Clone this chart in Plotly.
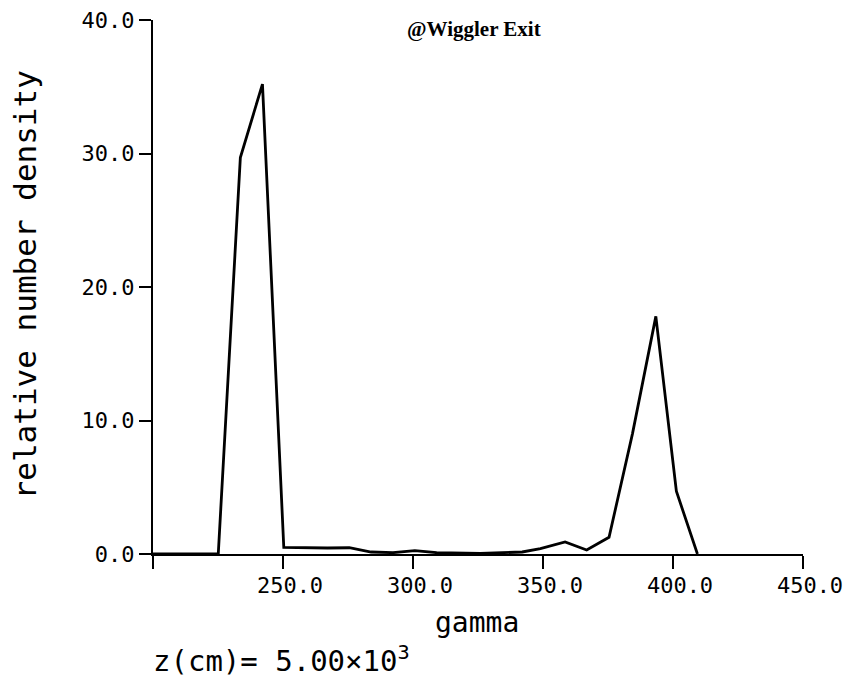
import plotly.graph_objects as go

# Energy distribution of the beam at the wiggler exit
gamma = [200.0, 208.4, 216.7, 225.1, 233.6, 242.1, 250.3, 258.7, 267.1, 275.5,
         283.9, 292.3, 300.7, 309.1, 317.5, 325.9, 334.3, 342.0, 349.0, 358.5,
         366.8, 375.4, 384.4, 393.4, 401.3, 409.4]
density = [0.0, 0.0, 0.0, 0.0, 29.7, 35.2, 0.5, 0.45, 0.45, 0.47,
           0.15, 0.1, 0.25, 0.1, 0.05, 0.05, 0.1, 0.15, 0.4, 0.9,
           0.3, 1.25, 9.0, 17.8, 4.7, 0.0]

x_ticks = [250, 300, 350, 400, 450]
x_tick_text = ["250.0", "300.0", "350.0", "400.0", "450.0"]
x_unlabelled_ticks = [200]
y_ticks = [0, 10, 20, 30, 40]
y_tick_text = ["0.0", "10.0", "20.0", "30.0", "40.0"]

mono = "DejaVu Sans Mono"

fig = go.Figure()
fig.add_trace(go.Scatter(
    x=gamma, y=density, mode="lines",
    line=dict(color="black", width=2.8),
    hoverinfo="skip", showlegend=False,
))

fig.update_layout(
    width=848, height=688,
    margin=dict(l=153, r=45, t=20, b=134),
    paper_bgcolor="white", plot_bgcolor="white",
    xaxis=dict(
        range=[200, 450], tickvals=x_ticks, ticktext=x_tick_text,
        showgrid=False, zeroline=False, automargin=False,
        showline=True, linecolor="black", linewidth=2,
        ticks="outside", ticklen=13, tickwidth=2, tickcolor="black",
        tickfont=dict(family=mono, size=22, color="black"),
        ticklabelshift=7, ticklabelstandoff=-2,
        minor=dict(tickvals=x_unlabelled_ticks, ticks="outside", ticklen=13,
                   tickwidth=2, tickcolor="black", showgrid=False),
    ),
    yaxis=dict(
        range=[0, 40], tickvals=y_ticks, ticktext=y_tick_text,
        showgrid=False, zeroline=False, automargin=False,
        showline=True, linecolor="black", linewidth=2,
        ticks="outside", ticklen=12, tickwidth=2, tickcolor="black",
        tickfont=dict(family=mono, size=22, color="black"),
    ),
    annotations=[
        dict(text="<b>@Wiggler Exit</b>", xref="paper", yref="paper",
             x=0.388, y=0.984, xanchor="left", yanchor="middle",
             showarrow=False,
             font=dict(family="Liberation Serif", size=21, color="black")),
        dict(text="gamma", xref="paper", yref="paper",
             x=0.498, y=0, xanchor="center", yanchor="top", yshift=-50,
             showarrow=False,
             font=dict(family=mono, size=28, color="black")),
        dict(text="relative number density", xref="paper", yref="paper",
             x=0, y=0.503, xanchor="center", yanchor="middle", xshift=-128,
             textangle=-90, showarrow=False,
             font=dict(family=mono, size=31, color="black")),
        dict(text="z(cm)= 5.00×10<sup>3</sup>", xref="paper", yref="paper",
             x=0, y=0, xanchor="left", yanchor="top", xshift=-2, yshift=-84,
             showarrow=False,
             font=dict(family=mono, size=29, color="black")),
    ],
)

fig.write_html("out.html")
